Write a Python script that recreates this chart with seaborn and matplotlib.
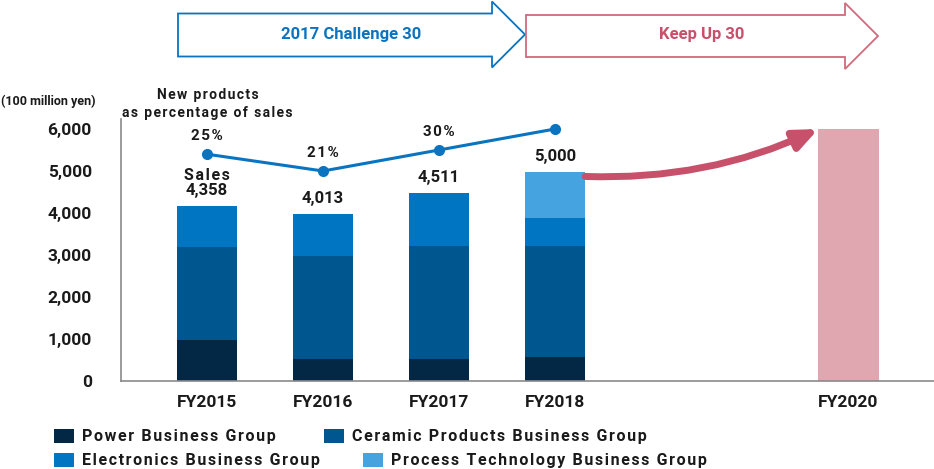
import numpy as np
import pandas as pd
import matplotlib
matplotlib.use("Agg")
import matplotlib.pyplot as plt
from matplotlib.patches import Polygon, Rectangle, FancyArrowPatch
import seaborn as sns

# Data
years = ["FY2015", "FY2016", "FY2017", "FY2018", "FY2020"]
power = [980, 520, 520, 570]
ceramic = [2210, 2450, 2690, 2640]
electronics = [980, 1000, 1260, 670]
process = [0, 0, 0, 1100]
target_2020 = 6000
sales_labels = ["4,358", "4,013", "4,511", "5,000"]
pct_labels = ["25%", "21%", "30%", ""]
pct_level = [5400, 5000, 5500, 6000]  # height of the markers as drawn on the sales scale
groups = ["Power Business Group", "Ceramic Products Business Group",
          "Electronics Business Group", "Process Technology Business Group"]
colors = ["#022845", "#00568f", "#0075c2", "#45a3e0"]
y_ticks = [0, 1000, 2000, 3000, 4000, 5000, 6000]

# Layout
x_pos = [0, 1, 2, 3, 5.53]
bar_w = 0.52
W, H = 934, 469
blue = "#0a74c0"
red = "#c7506a"
pink = "#e1a7b1"
ink = "#1a1a1a"

sns.set_theme(style="white")
plt.rcParams["font.family"] = ["Roboto", "DejaVu Sans"]
plt.rcParams["font.weight"] = "bold"


def track(s):
    # fake letter spacing with hair spaces
    return "\u200a".join(s)


fig = plt.figure(figsize=(W / 100, H / 100), dpi=100)
ax = fig.add_axes([121 / W, 1 - 381 / H, (W - 121) / W, (381 - 119) / H])

# stacked bars: draw cumulative totals from the top down
layers = np.cumsum([power, ceramic, electronics, process], axis=0)
for lvl in range(3, -1, -1):
    df = pd.DataFrame({"pos": x_pos[:4], "h": layers[lvl]})
    sns.barplot(data=df, x="pos", y="h", native_scale=True, width=bar_w,
                color=colors[lvl], saturation=1, errorbar=None, linewidth=0, ax=ax)
sns.barplot(x=[x_pos[4]], y=[target_2020], native_scale=True, width=bar_w,
            color=pink, saturation=1, errorbar=None, linewidth=0, ax=ax)

# new products line
sns.lineplot(x=x_pos[:4], y=pct_level, color=blue, linewidth=2.2, marker="o",
             markersize=8, markeredgewidth=0, ax=ax)
for xp, yv, lab in zip(x_pos[:4], pct_level, pct_labels):
    ax.annotate(track(lab), (xp, yv), xytext=(0, 18), textcoords="offset pixels",
                ha="center", va="center", fontsize=11, fontweight="bold", color=ink)

# sales labels
totals = layers[3]
for xp, tv, lab in zip(x_pos[:4], totals, sales_labels):
    ax.annotate(lab, (xp, tv), xytext=(0, 8), textcoords="offset pixels",
                ha="center", va="bottom", fontsize=12, fontweight="bold", color=ink)
ax.annotate(track("Sales"), (x_pos[0], totals[0]), xytext=(0, 23), textcoords="offset pixels",
            ha="center", va="bottom", fontsize=11.5, fontweight="bold", color=ink)

# growth arrow towards FY2020
arr = FancyArrowPatch((x_pos[3] + bar_w / 2, totals[3] - 110),
                      (x_pos[4] - bar_w / 2, target_2020),
                      connectionstyle="arc3,rad=0.12",
                      arrowstyle="-|>,head_length=0.7,head_width=0.3",
                      mutation_scale=20, lw=5, color=red, shrinkA=0, shrinkB=0)
ax.add_patch(arr)

ax.set_xlim(-0.741, 6.267)
ax.set_ylim(0, 6238)
ax.set_xticks(x_pos)
ax.set_xticklabels(years, fontsize=12.5, fontweight="bold", color=ink)
ax.set_yticks(y_ticks)
ax.set_yticklabels([f"{v:,}" for v in y_ticks], fontsize=12.5, fontweight="bold", color=ink)
ax.tick_params(axis="y", length=0, pad=21)
ax.tick_params(axis="x", length=0, pad=10)
ax.set_xlabel("")
ax.set_ylabel("")
sns.despine(ax=ax)
for s in ["left", "bottom"]:
    ax.spines[s].set_color("#8a8a8a")
    ax.spines[s].set_linewidth(1.2)


def fx(px):
    return px / W


def fy(py):
    return 1 - py / H


# top banner arrows
blue_pts = [(178, 13.5), (492, 13.5), (492, 1.5), (525, 34.5), (492, 67.5), (492, 56.5), (178, 56.5)]
red_pts = [(526, 15), (845, 15), (845, 3), (878, 36), (845, 69), (845, 57), (526, 57)]
fig.add_artist(Polygon([(fx(a), fy(b)) for a, b in blue_pts], closed=True, transform=fig.transFigure,
                       facecolor="white", edgecolor=blue, lw=1.3))
fig.add_artist(Polygon([(fx(a), fy(b)) for a, b in red_pts], closed=True, transform=fig.transFigure,
                       facecolor="white", edgecolor="#d06a7d", lw=1.3))
fig.text(fx(351), fy(34), "2017 Challenge 30", ha="center", va="center",
         fontsize=12, fontweight="bold", color=blue)
fig.text(fx(702), fy(35), "Keep Up 30", ha="center", va="center",
         fontsize=12, fontweight="bold", color=red)

# axis titles
fig.text(fx(1), fy(101), "(100 million yen)", ha="left", va="center",
         fontsize=9, fontweight="bold", color=ink)
fig.text(fx(208), fy(95), track("New products"), ha="center", va="center",
         fontsize=10, fontweight="bold", color=ink)
fig.text(fx(207), fy(113), track("as percentage of sales"), ha="center", va="center",
         fontsize=10, fontweight="bold", color=ink)

# legend, two rows
leg_items = [(54, 436, 0), (324, 436, 1), (54, 460, 2), (363, 460, 3)]
for lx, ly, i in leg_items:
    fig.add_artist(Rectangle((fx(lx), fy(ly + 7)), 20 / W, 14 / H, transform=fig.transFigure,
                             facecolor=colors[i], edgecolor="none"))
    fig.text(fx(lx + 28), fy(ly), track(groups[i]), ha="left", va="center",
             fontsize=11.5, fontweight="bold", color=ink)

fig.savefig("out.png", dpi=100)
